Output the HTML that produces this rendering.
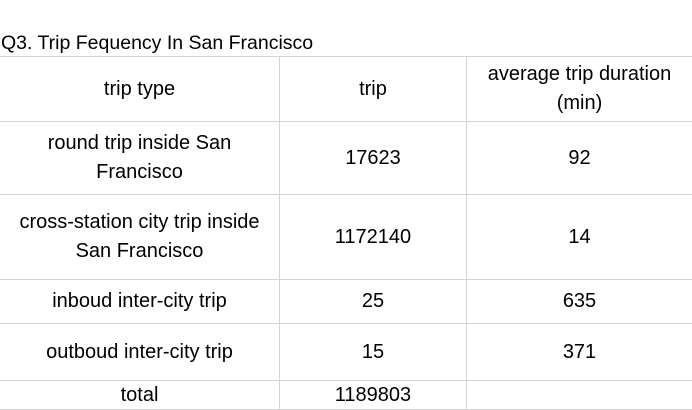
<!DOCTYPE html>
<html><head><meta charset="utf-8"><style>
body{margin:0;width:692px;height:410px;background:#fff;overflow:hidden;font-family:"Liberation Sans",sans-serif;color:#000;position:relative}
.t{position:absolute;left:1px;top:32px;font-size:19.5px}
.h{position:absolute;background:#d4d4d4;height:1px;left:0;width:692px}
.v{position:absolute;background:#d4d4d4;width:1px;top:56px;height:354px}
.c{position:absolute;display:flex;align-items:center;justify-content:center;text-align:center;font-size:20px;line-height:29px;white-space:nowrap}
</style></head><body>
<div class="t">Q3. Trip Fequency In San Francisco</div>
<div class="h" style="top:56px"></div>
<div class="h" style="top:121px"></div>
<div class="h" style="top:194px"></div>
<div class="h" style="top:279px"></div>
<div class="h" style="top:323px"></div>
<div class="h" style="top:380px"></div>
<div class="h" style="top:409px"></div>
<div class="v" style="left:279px"></div>
<div class="v" style="left:466px"></div>

<div class="c" style="left:0;top:57px;width:279px;height:64px">trip type</div>
<div class="c" style="left:280px;top:57px;width:186px;height:64px">trip</div>
<div class="c" style="left:467px;top:57px;width:225px;height:64px">average trip duration<br>(min)</div>

<div class="c" style="left:0;top:122px;width:279px;height:72px">round trip inside San<br>Francisco</div>
<div class="c" style="left:280px;top:122px;width:186px;height:72px">17623</div>
<div class="c" style="left:467px;top:122px;width:225px;height:72px">92</div>

<div class="c" style="left:0;top:195px;width:279px;height:84px">cross-station city trip inside<br>San Francisco</div>
<div class="c" style="left:280px;top:195px;width:186px;height:84px">1172140</div>
<div class="c" style="left:467px;top:195px;width:225px;height:84px">14</div>

<div class="c" style="left:0;top:280px;width:279px;height:43px">inboud inter-city trip</div>
<div class="c" style="left:280px;top:280px;width:186px;height:43px">25</div>
<div class="c" style="left:467px;top:280px;width:225px;height:43px">635</div>

<div class="c" style="left:0;top:324px;width:279px;height:56px">outboud inter-city trip</div>
<div class="c" style="left:280px;top:324px;width:186px;height:56px">15</div>
<div class="c" style="left:467px;top:324px;width:225px;height:56px">371</div>

<div class="c" style="left:0;top:381px;width:279px;height:28px">total</div>
<div class="c" style="left:280px;top:381px;width:186px;height:28px">1189803</div>
</body></html>
